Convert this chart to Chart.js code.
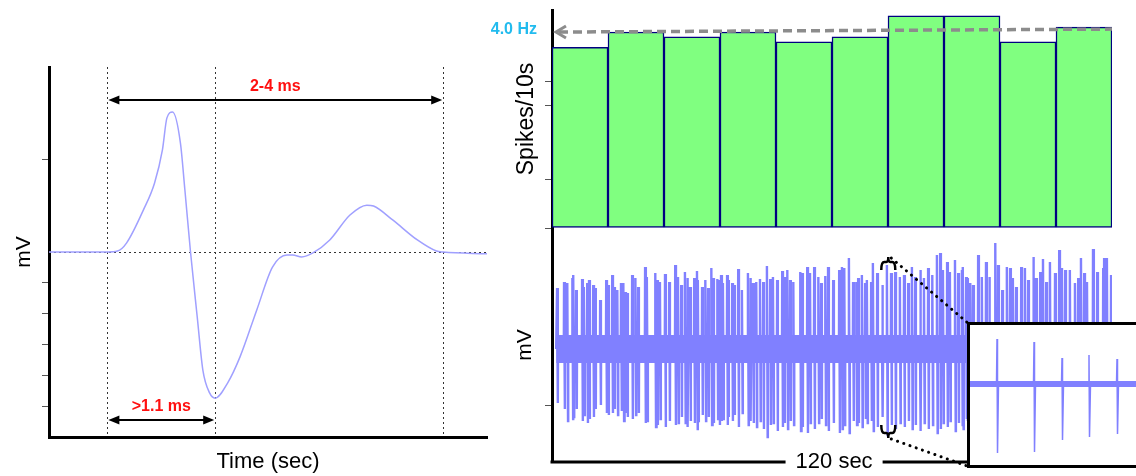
<!DOCTYPE html>
<html lang="en">
<head>
<meta charset="UTF-8" />
<title>Spike waveform and firing rate</title>
<script src="https://cdn.jsdelivr.net/npm/chart.js"></script>
<style>
  html, body { margin: 0; padding: 0; background: #fff; overflow: hidden; }
  body { width: 1136px; height: 476px; position: relative; }
  canvas { position: absolute; }
  #wave { left: 0; top: 0; }
  #rate { left: 480px; top: 0; }
  #trace { left: 480px; top: 228px; }
  #box { position: absolute; left: 967px; top: 322px; width: 200px; height: 140px;
         border: 3px solid #000; background: #fff; }
  #zoom { left: 0; top: 0; }
</style>
</head>
<body>
<canvas id="wave" width="500" height="476"></canvas>
<canvas id="rate" width="656" height="232"></canvas>
<canvas id="trace" width="656" height="248"></canvas>
<div id="box"><canvas id="zoom" width="170" height="140"></canvas></div>

<script>
// --- single spike waveform (time in ms, amplitude in arbitrary mV units)
const WAVE_T = [0, 0.45, 0.52, 0.61, 0.69, 0.84, 0.94, 1.01, 1.05, 1.10, 1.17, 1.21, 1.26, 1.32, 1.37, 1.43, 1.48,
                1.59, 1.70, 1.85, 1.99, 2.12, 2.17, 2.25, 2.35, 2.50, 2.68, 2.83, 2.89, 3.06, 3.28, 3.45, 3.51, 3.90];
const WAVE_V = [0, 0, 0, 0.03, 0.29, 1.36, 2.24, 3.31, 4.35, 4.54, 3.54, 2.01, 0, -2.11, -3.83, -4.57, -4.74,
                -4.25, -3.41, -1.88, -0.49, -0.10, -0.10, -0.16, -0.03, 0.39, 1.20, 1.52, 1.49, 1.04, 0.39, 0.03, 0, -0.06];
const WAVE_MARKS = [0.52, 1.48, 3.51];
const WAVE_TICKS = [3, -1, -2, -3, -4, -5];
const SPAN_LABELS = ['2-4 ms', '>1.1 ms'];
const SPAN_FROM = [0.52, 0.52];
const SPAN_TO = [3.51, 1.48];
const SPAN_ARROW_Y = [4.93, -5.45];
const SPAN_TEXT_Y = [5.38, -5.03];

// --- firing rate, spikes per 10 s bin
const BIN_LABELS = ['0-10', '10-20', '20-30', '30-40', '40-50', '50-60', '60-70', '70-80', '80-90', '90-100'];
const RATE = [36.9, 40.0, 39.0, 40.0, 38.0, 39.0, 43.3, 43.3, 38.0, 41.0];
const RATE_TICKS = [0, 10, 25, 30];
const MEAN_LINE = [40.0, 40.6];
const MEAN_LABEL = '4.0 Hz';

// --- 120 s extracellular recording: spike times (s) and peak / trough (mV)
const SPIKE_T = [0.2, 1.7, 2.4, 3.5, 3.7, 4.3, 5.6, 6.0, 6.7, 7.1, 8.0, 8.4, 9.5, 10.8, 11.2, 12.1, 12.5, 13.2, 14.0, 14.5,
  14.9, 15.3, 16.4, 17.1, 17.7, 19.2, 19.6, 21.4, 21.8, 22.4, 23.5, 24.4, 25.7, 26.3, 27.0, 27.8, 28.3, 28.9, 29.8, 30.4,
  30.6, 31.5, 32.2, 32.8, 33.5, 33.9, 34.8, 35.2, 35.6, 36.0, 36.9, 37.1, 38.0, 38.4, 39.3, 40.1, 41.4, 41.9, 42.5, 43.2,
  44.0, 44.7, 45.5, 46.2, 46.8, 47.7, 48.8, 49.2, 49.9, 50.5, 51.2, 52.7, 53.1, 54.2, 54.8, 55.7, 56.6, 57.2, 58.1, 58.7,
  59.8, 61.1, 61.7, 62.2, 63.2, 64.1, 64.8, 65.2, 66.0, 66.7, 67.1, 68.0, 68.4, 69.3, 70.4, 71.4, 72.3, 73.2, 74.2, 75.1,
  76.0, 76.8, 77.5, 78.6, 79.4, 80.3, 81.2, 82.2, 82.9, 83.5, 84.4, 85.0, 86.1, 86.8, 87.6, 87.8, 88.5, 88.7, 89.4, 90.0,
  91.1, 91.9, 92.8, 93.5, 94.8, 95.4, 96.3, 97.3, 98.0, 98.6, 99.3, 100.4, 101.2, 101.9, 103.0, 103.6, 104.5, 105.1, 105.8, 106.6,
  107.7, 108.6, 109.2, 109.9, 110.9, 112.0, 112.7, 113.3, 114.0, 114.6, 115.9, 116.8, 118.1, 118.3, 118.9, 119.8];
const SPIKE_UP = [0.305, 0.335, 0.33, 0.355, 0.37, 0.295, 0.35, 0.31, 0.33, 0.345, 0.32, 0.305, 0.245, 0.345, 0.32, 0.37, 0.31, 0.295, 0.33, 0.33,
  0.285, 0.28, 0.37, 0.355, 0.31, 0.41, 0.36, 0.38, 0.345, 0.335, 0.375, 0.335, 0.42, 0.36, 0.32, 0.385, 0.355, 0.31, 0.355, 0.39,
  0.345, 0.31, 0.345, 0.305, 0.405, 0.355, 0.35, 0.345, 0.37, 0.33, 0.37, 0.345, 0.33, 0.32, 0.40, 0.295, 0.38, 0.355, 0.33, 0.335,
  0.35, 0.335, 0.415, 0.35, 0.36, 0.345, 0.39, 0.36, 0.395, 0.345, 0.335, 0.385, 0.38, 0.41, 0.38, 0.41, 0.36, 0.33, 0.365, 0.41,
  0.345, 0.395, 0.41, 0.405, 0.455, 0.335, 0.335, 0.355, 0.37, 0.33, 0.345, 0.335, 0.43, 0.38, 0.32, 0.42, 0.38, 0.385, 0.36, 0.37,
  0.33, 0.41, 0.36, 0.395, 0.355, 0.405, 0.37, 0.47, 0.48, 0.395, 0.435, 0.385, 0.445, 0.38, 0.395, 0.41, 0.36, 0.355, 0.33, 0.32,
  0.47, 0.36, 0.435, 0.36, 0.53, 0.42, 0.295, 0.41, 0.405, 0.355, 0.31, 0.41, 0.405, 0.345, 0.46, 0.355, 0.385, 0.45, 0.335, 0.435,
  0.38, 0.495, 0.405, 0.395, 0.395, 0.33, 0.355, 0.455, 0.38, 0.335, 0.50, 0.385, 0.405, 0.455, 0.455, 0.37];
const SPIKE_DN = [0.27, 0.30, 0.36, 0.35, 0.34, 0.30, 0.36, 0.33, 0.37, 0.35, 0.34, 0.30, 0.28, 0.32, 0.33, 0.32, 0.30, 0.33, 0.31, 0.36,
  0.32, 0.34, 0.35, 0.33, 0.32, 0.37, 0.36, 0.39, 0.38, 0.35, 0.39, 0.36, 0.38, 0.37, 0.34, 0.37, 0.39, 0.36, 0.37, 0.40,
  0.36, 0.33, 0.36, 0.34, 0.38, 0.37, 0.35, 0.38, 0.36, 0.35, 0.38, 0.34, 0.36, 0.33, 0.39, 0.32, 0.38, 0.36, 0.37, 0.39,
  0.36, 0.40, 0.44, 0.38, 0.37, 0.41, 0.39, 0.37, 0.40, 0.36, 0.38, 0.41, 0.39, 0.42, 0.37, 0.40, 0.37, 0.35, 0.38, 0.41,
  0.37, 0.42, 0.40, 0.38, 0.42, 0.36, 0.38, 0.37, 0.39, 0.35, 0.37, 0.36, 0.41, 0.39, 0.34, 0.43, 0.38, 0.40, 0.37, 0.39,
  0.36, 0.40, 0.38, 0.41, 0.37, 0.40, 0.38, 0.42, 0.40, 0.37, 0.39, 0.36, 0.41, 0.37, 0.38, 0.40, 0.35, 0.36, 0.34, 0.35,
  0.42, 0.37, 0.40, 0.36, 0.44, 0.39, 0.33, 0.40, 0.38, 0.36, 0.34, 0.39, 0.40, 0.36, 0.42, 0.37, 0.38, 0.41, 0.36, 0.40,
  0.38, 0.43, 0.39, 0.38, 0.40, 0.35, 0.36, 0.41, 0.37, 0.36, 0.43, 0.38, 0.39, 0.40, 0.41, 0.37];
const NOISE_BAND = [0.07, -0.07];
const TRACE_TICKS = [-0.28];
const TRACE_SPAN_LABEL = '120 sec';
const TRACE_SPAN_MID = 60;
const ZOOM_AT = 71.7;          // spike that is blown up in the inset
const ZOOM_Y = [0.46, -0.445];

// --- inset: 1.36 s of the same recording (time in ms)
const INSET_T = [216, 512, 736, 952, 1176];
const INSET_UP = [0.45, 0.42, 0.26, 0.29, 0.25];
const INSET_DN = [0.69, 0.68, 0.56, 0.53, 0.50];
const INSET_NOISE = [0.03, -0.03];

const TRACE_COLOR = '#8080ff';

Chart.defaults.font.family = '"Liberation Sans", Arial, Helvetica, sans-serif';
Chart.defaults.color = '#000';
Chart.defaults.animation = false;
Chart.defaults.plugins.legend.display = false;
Chart.defaults.plugins.tooltip.enabled = false;

const fixW = w => s => { s.width = w; };
const fixH = h => s => { s.height = h; };
const setTicks = list => s => { s.ticks = list.map(v => ({ value: v })); };

function line(ctx, x1, y1, x2, y2) {
  ctx.beginPath(); ctx.moveTo(x1, y1); ctx.lineTo(x2, y2); ctx.stroke();
}
function head(ctx, x, y, dir) {
  ctx.beginPath();
  ctx.moveTo(x, y);
  ctx.lineTo(x - dir * 11, y - 4.5);
  ctx.lineTo(x - dir * 11, y + 4.5);
  ctx.closePath(); ctx.fill();
}

// ---------- left: spike waveform
const wavePlugin = {
  id: 'waveNotes',
  beforeDatasetsDraw(chart) {
    const { ctx, chartArea: a, scales: { x, y } } = chart;
    ctx.save();
    ctx.strokeStyle = '#333'; ctx.lineWidth = 1; ctx.setLineDash([2, 3]);
    WAVE_MARKS.forEach(t => {
      const px = Math.round(x.getPixelForValue(t)) + 0.5;
      line(ctx, px, a.top, px, a.bottom);
    });
    const py = Math.round(y.getPixelForValue(0)) + 0.5;
    line(ctx, a.left, py, a.right, py);
    ctx.restore();
  },
  afterDraw(chart) {
    const { ctx, scales: { x, y } } = chart;
    ctx.save();
    SPAN_LABELS.forEach((txt, i) => {
      const x1 = x.getPixelForValue(SPAN_FROM[i]) + 1, x2 = x.getPixelForValue(SPAN_TO[i]) - 1;
      const ay = y.getPixelForValue(SPAN_ARROW_Y[i]);
      ctx.strokeStyle = '#000'; ctx.fillStyle = '#000'; ctx.lineWidth = 2;
      line(ctx, x1 + 6, ay, x2 - 6, ay);
      head(ctx, x1, ay, -1); head(ctx, x2, ay, 1);
      ctx.fillStyle = '#ff1010';
      ctx.font = 'bold 16px "Liberation Sans", Arial, sans-serif';
      ctx.textAlign = 'center'; ctx.textBaseline = 'middle';
      ctx.fillText(txt, (x1 + x2) / 2, y.getPixelForValue(SPAN_TEXT_Y[i]));
    });
    ctx.restore();
  }
};

new Chart(document.getElementById('wave'), {
  type: 'line',
  data: {
    datasets: [{
      data: WAVE_T.map((t, i) => ({ x: t, y: WAVE_V[i] })),
      borderColor: '#a0a0ff', borderWidth: 1.5, pointRadius: 0,
      cubicInterpolationMode: 'monotone'
    }]
  },
  options: {
    responsive: false,
    layout: { padding: { top: 67, right: 13, left: 0, bottom: 0 } },
    scales: {
      x: {
        type: 'linear', min: 0, max: 3.9,
        grid: { display: false },
        ticks: { display: false },
        border: { color: '#000', width: 3 },
        title: { display: true, text: 'Time (sec)', font: { size: 22 }, padding: { top: 0, bottom: 1 } },
        afterFit: fixH(39)
      },
      y: {
        min: -6, max: 6,
        afterBuildTicks: setTicks(WAVE_TICKS),
        grid: { drawOnChartArea: false, tickLength: 7, color: '#555' },
        ticks: { display: false },
        border: { color: '#000', width: 3 },
        title: { display: true, text: 'mV', font: { size: 21 }, padding: { top: 12, bottom: 0 } },
        afterFit: fixW(49)
      }
    }
  },
  plugins: [wavePlugin]
});

// ---------- right top: firing rate histogram
const ratePlugin = {
  id: 'meanRate',
  afterDatasetsDraw(chart) {
    const { ctx, chartArea: a, scales: { y } } = chart;
    const x1 = a.left + 4, x2 = a.right;
    const y1 = y.getPixelForValue(MEAN_LINE[0]), y2 = y.getPixelForValue(MEAN_LINE[1]);
    ctx.save();
    ctx.strokeStyle = '#8c8c8c'; ctx.lineWidth = 3.5; ctx.setLineDash([9, 5]);
    line(ctx, x1 + 3, y1, x2, y2);
    ctx.setLineDash([]); ctx.lineWidth = 3;
    ctx.beginPath(); ctx.moveTo(x1 + 10, y1 - 6); ctx.lineTo(x1, y1); ctx.lineTo(x1 + 10, y1 + 6); ctx.stroke();
    ctx.fillStyle = '#22bbee';
    ctx.font = 'bold 16px "Liberation Sans", Arial, sans-serif';
    ctx.textAlign = 'right'; ctx.textBaseline = 'middle';
    ctx.fillText(MEAN_LABEL, a.left - 15, y1 - 2);
    ctx.restore();
  }
};

new Chart(document.getElementById('rate'), {
  type: 'bar',
  data: {
    labels: BIN_LABELS,
    datasets: [{
      data: RATE,
      backgroundColor: '#80ff80', borderColor: '#000080', borderWidth: 1.5, borderSkipped: false,
      categoryPercentage: 1, barPercentage: 1
    }]
  },
  options: {
    responsive: false,
    layout: { padding: { top: 10, right: 24, left: 0, bottom: 4 } },
    scales: {
      x: { display: false },
      y: {
        min: 0, max: 44.5,
        afterBuildTicks: setTicks(RATE_TICKS),
        grid: { drawOnChartArea: false, tickLength: 7, color: '#555' },
        ticks: { display: false },
        border: { color: '#000', width: 3 },
        title: { display: true, text: 'Spikes/10s', font: { size: 23 }, padding: { top: 33, bottom: 0 } },
        afterFit: fixW(72)
      }
    }
  },
  plugins: [ratePlugin]
});

// ---------- right bottom: raw trace
const tracePts = [{ x: 0, y: 0 }];
SPIKE_T.forEach((t, i) => {
  tracePts.push({ x: t - 0.05, y: 0 }, { x: t, y: SPIKE_UP[i] }, { x: t + 0.16, y: -SPIKE_DN[i] }, { x: t + 0.2, y: 0 });
});
tracePts.push({ x: 120, y: 0 });

function brace(ctx, cx, yTip, dir) {
  // horizontal curly brace, tip at yTip, arms pointing in dir (+1 down, -1 up)
  const m = yTip + dir * 5, arm = yTip + dir * 13;
  ctx.beginPath();
  ctx.moveTo(cx - 7, arm);
  ctx.quadraticCurveTo(cx - 7, m, cx - 4, m);
  ctx.lineTo(cx - 2, m);
  ctx.quadraticCurveTo(cx, m, cx, yTip);
  ctx.quadraticCurveTo(cx, m, cx + 2, m);
  ctx.lineTo(cx + 4, m);
  ctx.quadraticCurveTo(cx + 7, m, cx + 7, arm);
  ctx.stroke();
}

const tracePlugin = {
  id: 'traceNotes',
  afterDraw(chart) {
    const { ctx, chartArea: a, scales: { x, y } } = chart;
    const box = document.getElementById('box');
    const cv = chart.canvas;
    const bx = box.offsetLeft - cv.offsetLeft + 1.5;
    const bTop = box.offsetTop - cv.offsetTop + 1.5;
    const bBot = bTop + box.offsetHeight - 3;
    ctx.save();
    // x axis with the duration written into it
    ctx.font = '22px "Liberation Sans", Arial, sans-serif';
    const mid = x.getPixelForValue(TRACE_SPAN_MID);
    const gap = ctx.measureText(TRACE_SPAN_LABEL).width / 2 + 10;
    ctx.strokeStyle = '#000'; ctx.lineWidth = 3;
    line(ctx, a.left - 1.5, a.bottom, mid - gap, a.bottom);
    line(ctx, mid + gap, a.bottom, bx, a.bottom);
    ctx.fillStyle = '#000'; ctx.textAlign = 'center'; ctx.textBaseline = 'middle';
    ctx.fillText(TRACE_SPAN_LABEL, mid, a.bottom);
    // braces round the zoomed spike and leaders to the inset
    const cx = x.getPixelForValue(ZOOM_AT);
    const yt = y.getPixelForValue(ZOOM_Y[0]), yb = y.getPixelForValue(ZOOM_Y[1]);
    ctx.lineWidth = 2.5;
    brace(ctx, cx, yt, 1);
    brace(ctx, cx, yb, -1);
    ctx.lineWidth = 3; ctx.lineCap = 'round'; ctx.setLineDash([0.1, 6.5]);
    line(ctx, cx + 3, yt + 1, bx, bTop);
    line(ctx, cx + 3, yb + 1, bx, bBot);
    ctx.restore();
  }
};

new Chart(document.getElementById('trace'), {
  type: 'line',
  data: {
    datasets: [
      { data: [{ x: 0, y: NOISE_BAND[0] }, { x: 120, y: NOISE_BAND[0] }], borderWidth: 0, pointRadius: 0,
        fill: '+1', backgroundColor: TRACE_COLOR },
      { data: [{ x: 0, y: NOISE_BAND[1] }, { x: 120, y: NOISE_BAND[1] }], borderWidth: 0, pointRadius: 0 },
      { data: tracePts, borderColor: TRACE_COLOR, borderWidth: 2.4, pointRadius: 0, tension: 0 }
    ]
  },
  options: {
    responsive: false,
    layout: { padding: { top: 0, right: 24, left: 0, bottom: 14 } },
    scales: {
      x: { type: 'linear', min: -0.9, max: 120, display: false },
      y: {
        min: -0.565, max: 0.605,
        afterBuildTicks: setTicks(TRACE_TICKS),
        grid: { drawOnChartArea: false, tickLength: 7, color: '#555' },
        ticks: { display: false },
        border: { color: '#000', width: 3 },
        title: { display: true, text: 'mV', font: { size: 21 }, padding: { top: 33, bottom: 0 } },
        afterFit: fixW(72)
      }
    }
  },
  plugins: [tracePlugin]
});

// ---------- inset
const insetPts = [{ x: 0, y: 0 }];
INSET_T.forEach((t, i) => {
  insetPts.push({ x: t - 4, y: 0 }, { x: t, y: INSET_UP[i] }, { x: t + 4, y: -INSET_DN[i] }, { x: t + 12, y: 0 });
});
insetPts.push({ x: 1360, y: 0 });

new Chart(document.getElementById('zoom'), {
  type: 'line',
  data: {
    datasets: [
      { data: [{ x: 0, y: INSET_NOISE[0] }, { x: 1360, y: INSET_NOISE[0] }], borderWidth: 0, pointRadius: 0,
        fill: '+1', backgroundColor: TRACE_COLOR },
      { data: [{ x: 0, y: INSET_NOISE[1] }, { x: 1360, y: INSET_NOISE[1] }], borderWidth: 0, pointRadius: 0 },
      { data: insetPts, borderColor: TRACE_COLOR, borderWidth: 1.5, pointRadius: 0, tension: 0 }
    ]
  },
  options: {
    responsive: false,
    layout: { padding: 0 },
    scales: {
      x: { type: 'linear', min: 0, max: 1360, display: false },
      y: { min: -0.81, max: 0.59, display: false }
    }
  }
});
</script>
</body>
</html>
